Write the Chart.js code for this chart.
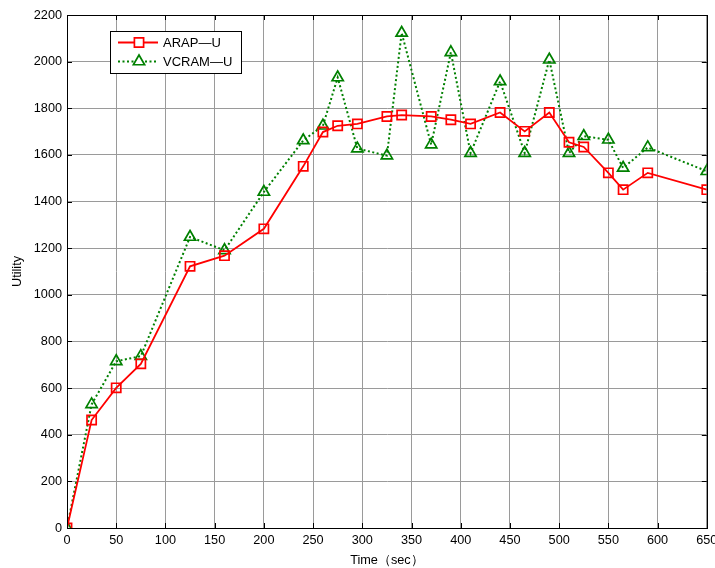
<!DOCTYPE html>
<html>
<head>
<meta charset="utf-8">
<script src="https://cdn.jsdelivr.net/npm/chart.js@4/dist/chart.umd.min.js"></script>
<style>
html,body{margin:0;padding:0;background:#fff;}
#wrap{width:715px;height:568px;position:relative;}
</style>
</head>
<body>
<div id="wrap"><canvas id="c" width="715" height="568"></canvas></div>
<script>
// ---- data ----
const times = [0,25,50,75,125,160,200,240,260,275,295,325,340,370,390,410,440,465,490,510,525,550,565,590,650];
const arapU = [0,463,601,704,1122,1168,1283,1551,1698,1725,1733,1765,1771,1765,1751,1733,1782,1701,1782,1654,1634,1523,1451,1523,1451];
const vcramU = [0,530,715,737,1248,1191,1441,1662,1725,1932,1627,1597,2123,1644,2040,1608,1915,1608,2008,1608,1680,1665,1544,1632,1530];
const seriesNames = ['ARAP\u2014U', 'VCRAM\u2014U'];
const xTitle = 'Time\uFF08sec\uFF09';
const yTitle = 'Utility';
const xMin = 0, xMax = 650, xStep = 50;
const yMin = 0, yMax = 2200, yStep = 200;

const toPts = (xs, ys) => xs.map((x, i) => ({x: x, y: ys[i]}));
const FONT = {family: '"Liberation Sans", Arial, sans-serif', size: 12.7};

const frameAndTicks = {
  id: 'frameAndTicks',
  afterDatasetsDraw(chart) {
    const {ctx, chartArea: a, scales} = chart;
    ctx.save();
    ctx.strokeStyle = '#000';
    ctx.lineWidth = 1;
    ctx.beginPath();
    scales.x.ticks.forEach(t => {
      const px = Math.round(scales.x.getPixelForValue(t.value)) + 0.5;
      ctx.moveTo(px, a.bottom); ctx.lineTo(px, a.bottom - 5);
      ctx.moveTo(px, a.top); ctx.lineTo(px, a.top + 5);
    });
    scales.y.ticks.forEach(t => {
      const py = Math.round(scales.y.getPixelForValue(t.value)) + 0.5;
      ctx.moveTo(a.left, py); ctx.lineTo(a.left + 5, py);
      ctx.moveTo(a.right, py); ctx.lineTo(a.right - 5, py);
    });
    ctx.stroke();
    ctx.strokeRect(Math.round(a.left) + 0.5, Math.round(a.top) + 0.5,
                   Math.round(a.right - a.left), Math.round(a.bottom - a.top));
    ctx.restore();
  },
  afterDraw(chart) {
    const {ctx} = chart;
    const ds = chart.data.datasets;
    const bx = 110, by = 31, bw = 131, bh = 42;
    ctx.save();
    ctx.fillStyle = '#fff';
    ctx.fillRect(bx, by, bw, bh);
    ctx.strokeStyle = '#000';
    ctx.lineWidth = 1;
    ctx.strokeRect(bx + 0.5, by + 0.5, bw, bh);
    ds.forEach((d, i) => {
      const y = by + 11.5 + i * 19;
      ctx.strokeStyle = d.borderColor;
      ctx.lineWidth = d.borderWidth;
      ctx.setLineDash(d.borderDash || []);
      ctx.beginPath(); ctx.moveTo(118, y); ctx.lineTo(158, y); ctx.stroke();
      ctx.setLineDash([]);
      ctx.strokeStyle = d.pointBorderColor;
      ctx.fillStyle = '#fff';
      ctx.lineWidth = d.pointBorderWidth;
      Chart.helpers.drawPoint(ctx, {
        pointStyle: d.pointStyle, radius: d.pointRadius,
        borderWidth: d.pointBorderWidth, rotation: 0
      }, 139, y);
      ctx.fillStyle = '#000';
      ctx.font = '13px "Liberation Sans", Arial, sans-serif';
      ctx.textBaseline = 'middle';
      ctx.fillText(d.label, 163, y + 0.5);
    });
    ctx.restore();
  }
};

new Chart(document.getElementById('c'), {
  type: 'line',
  data: {
    datasets: [
      {
        label: seriesNames[0],
        data: toPts(times, arapU),
        borderColor: '#ff0000',
        backgroundColor: 'rgba(0,0,0,0)',
        borderWidth: 1.8,
        pointStyle: 'rect',
        pointRadius: 6.5,
        pointBorderWidth: 1.7,
        pointBorderColor: '#ff0000',
        pointBackgroundColor: 'rgba(0,0,0,0)',
        tension: 0
      },
      {
        label: seriesNames[1],
        data: toPts(times, vcramU),
        borderColor: '#008000',
        backgroundColor: 'rgba(0,0,0,0)',
        borderWidth: 2,
        borderDash: [2, 2.5],
        pointStyle: 'triangle',
        pointRadius: 6.5,
        pointBorderWidth: 1.7,
        pointBorderColor: '#008000',
        pointBackgroundColor: 'rgba(0,0,0,0)',
        tension: 0
      }
    ]
  },
  options: {
    responsive: false,
    animation: false,
    devicePixelRatio: 1,
    layout: {padding: {left: 0, right: 8, top: 15, bottom: 0}},
    plugins: {legend: {display: false}, tooltip: {enabled: false}},
    scales: {
      x: {
        type: 'linear', min: xMin, max: xMax,
        ticks: {stepSize: xStep, color: '#000', font: FONT, padding: 5, maxRotation: 0,
                callback: v => String(v)},
        grid: {color: '#9a9a9a', drawTicks: false, lineWidth: 1},
        border: {display: true, color: '#000'},
        title: {display: true, text: xTitle, color: '#000', font: FONT, padding: {top: 1, bottom: 0}},
        afterFit: s => { s.height = 40; s.paddingRight = 0; s.paddingLeft = 0; }
      },
      y: {
        type: 'linear', min: yMin, max: yMax,
        ticks: {stepSize: yStep, color: '#000', font: FONT, padding: 5,
                callback: v => String(v)},
        grid: {color: '#9a9a9a', drawTicks: false, lineWidth: 1},
        border: {display: true, color: '#000'},
        title: {display: true, text: yTitle, color: '#000', font: FONT, padding: {top: 10, bottom: 0}},
        afterFit: s => { s.width = 67; }
      }
    }
  },
  plugins: [frameAndTicks]
});
</script>
</body>
</html>
